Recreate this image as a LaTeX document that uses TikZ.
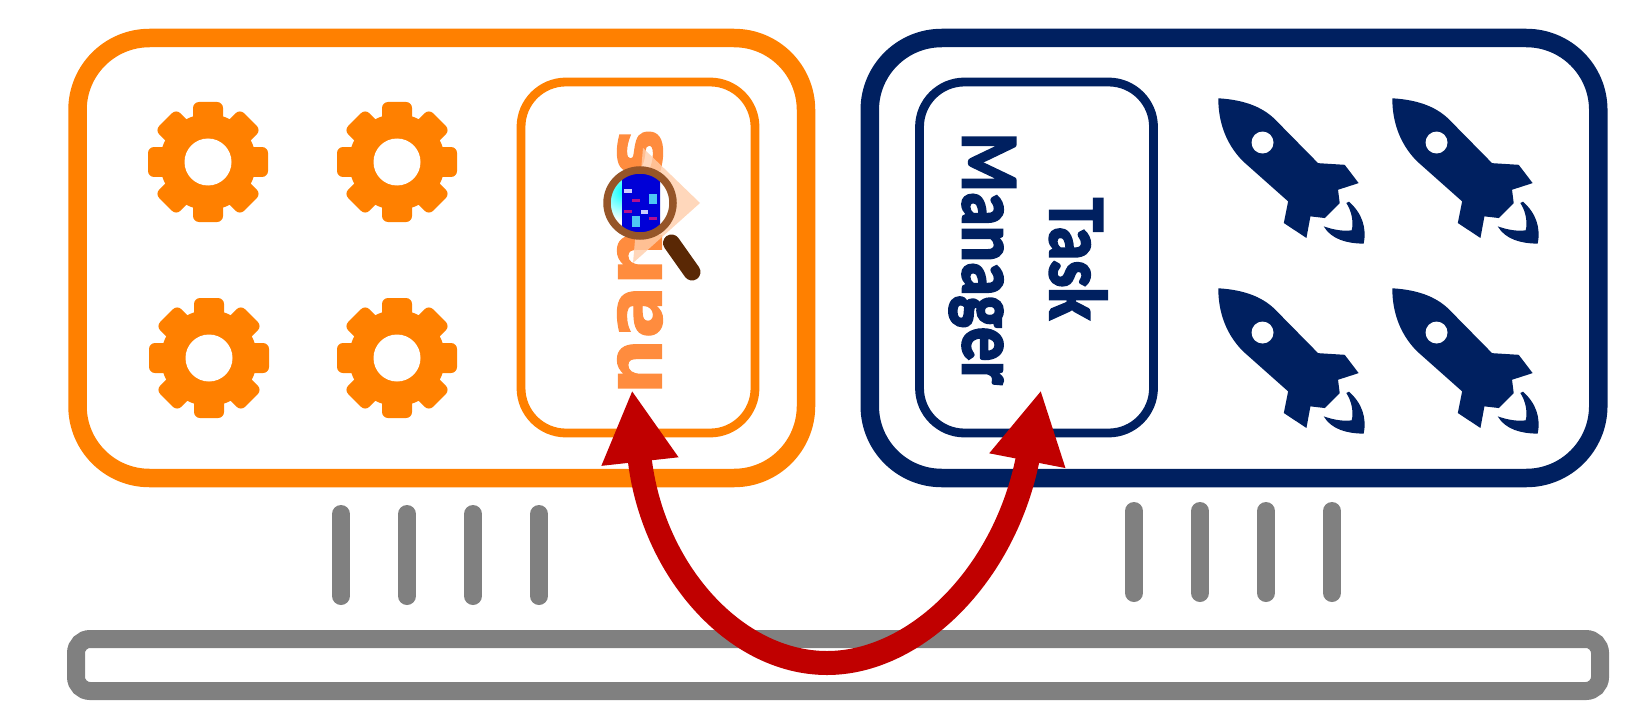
\documentclass[tikz,border=0pt]{standalone}
\usepackage{fontspec}
\usepackage{xcolor}
\usepackage{tikz}
\usetikzlibrary{arrows.meta}
\newfontfamily\mgrfont[BoldFeatures={FakeBold=3}]{Carlito}
\newfontfamily\nanofont[BoldFeatures={FakeBold=1.5}]{DejaVu Sans}
\definecolor{myorange}{RGB}{255,128,0}
\definecolor{mynavy}{RGB}{0,32,96}
\definecolor{mygray}{RGB}{128,128,128}
\definecolor{myred}{RGB}{192,0,0}
\definecolor{lightorange}{RGB}{255,140,62}
\definecolor{peach}{RGB}{255,205,170}
\definecolor{ringbrown}{RGB}{150,85,40}
\definecolor{handlebrown}{RGB}{90,40,5}
\definecolor{chipblue}{RGB}{0,0,215}
\tikzset{
  hostbox/.style={rectangle, line width=0.185cm, rounded corners=0.72cm, inner sep=0pt, outer sep=0pt,
    minimum width=7.285cm, minimum height=4.40cm},
  mgrbox/.style={rectangle, line width=0.088cm, rounded corners=0.45cm, inner sep=0pt, outer sep=0pt,
    minimum width=2.34cm, minimum height=3.51cm},
  pintick/.style={line width=0.18cm, line cap=round, color=mygray},
  arrow/.style={{Triangle[length=0.72cm,width=0.72cm]}-{Triangle[length=0.72cm,width=0.72cm]}, line width=0.24cm, color=myred},
  gear/.pic={
    \fill[myorange] (0,0) circle (0.48);
    \foreach \a in {0,45,...,315}
      \fill[myorange, rotate=\a, rounded corners=0.06cm] (-0.15,0.3) -- (-0.15,0.6) -- (0.15,0.6) -- (0.15,0.3) -- cycle;
    \fill[white] (0,0) circle (0.235);
  },
  rocket/.pic={
    \fill[mynavy, x=0.003333cm, y=-0.003333cm] (85,55) .. controls (170,60) and (225,85) .. (262,125) -- (385,250) -- (465,255) -- (507,310)
      -- (445,330) -- (450,370) -- (405,415) -- (362,410) -- (350,475) -- (282,430) -- (295,365) -- (160,245)
      .. controls (110,195) and (85,130) .. cycle;
    \fill[white, x=0.003333cm, y=-0.003333cm] (218,188) circle (33);
    \fill[mynavy, x=0.003333cm, y=-0.003333cm] (470,370) .. controls (487,395) and (492,430) .. (486,452)
      .. controls (455,456) and (425,448) .. (402,440) .. controls (425,480) and (475,492) .. (522,492)
      .. controls (532,445) and (517,400) .. (478,366) -- cycle;
  }
}
\begin{document}
\begin{tikzpicture}
  \useasboundingbox (0,0) rectangle (16.35,7.01);
  % Nodes
  \node[hostbox, draw=myorange] (host) at (4.4175,4.43) {};
  \node[hostbox, draw=mynavy] (accel) at (12.34,4.43) {};
  \node[mgrbox, draw=myorange] (nanosbox) at (6.38,4.435) {};
  \node[mgrbox, draw=mynavy] (taskbox) at (10.365,4.435) {};
  \node[rotate=90, text=lightorange, font=\nanofont\bfseries\fontsize{22.4}{24}\selectfont, inner sep=0pt] (nanos) at (6.40,4.395) {nanos};
  \node[rotate=-90, xscale=0.84, transform shape, text=mynavy, align=center, font=\mgrfont\bfseries\fontsize{23}{24.8}\selectfont, inner sep=0pt] (taskmgr) at (10.28,4.42) {Task\\Manager};
  \node[rectangle, draw=mygray, line width=0.18cm, rounded corners=0.14cm, inner sep=0pt, outer sep=0pt,
    minimum width=15.24cm, minimum height=0.52cm] (bus) at (8.38,0.36) {};

  % Magnifier
  \fill[peach, opacity=0.8] (6.43,5.53) -- (7.00,4.98) -- (6.33,4.38) -- cycle;
  \begin{scope}
    \clip (6.40,4.98) circle (0.335);
    \fill[white] (6.40,4.98) circle (0.335);
    \shade[inner color=cyan, outer color=white] (6.24,5.10) circle (0.3);
    \fill[chipblue, rounded corners=0.05cm] (6.22,4.69) rectangle (6.60,5.28);
    \fill[cyan!70] (6.49,4.97) rectangle (6.57,5.07);
    \fill[cyan!70] (6.32,4.74) rectangle (6.40,4.85);
    \fill[blue!20] (6.24,5.08) rectangle (6.32,5.12);
    \fill[blue!20] (6.41,4.87) rectangle (6.48,4.91);
    \fill[magenta!70!blue] (6.32,4.99) rectangle (6.40,5.02);
    \fill[magenta!70!blue] (6.24,4.88) rectangle (6.32,4.91);
    \fill[magenta!70!blue] (6.49,4.81) rectangle (6.57,4.84);
  \end{scope}
  \draw[ringbrown, line width=0.075cm] (6.40,4.98) circle (0.33);
  \draw[handlebrown, line width=0.17cm, line cap=round] (6.715,4.58) -- (6.92,4.29);

  % Icons
  \foreach \x/\y in {2.08/5.39, 3.97/5.39, 2.09/3.43, 3.97/3.43}
    \pic at (\x,\y) {gear};
  \foreach \x/\y in {11.90/6.21, 13.64/6.21, 11.90/4.31, 13.64/4.31}
    \pic at (\x,\y) {rocket};

  % Pins
  \foreach \x in {3.41,4.07,4.73,5.39}
    \draw[pintick] (\x,1.87) -- (\x,1.05);
  \foreach \x in {11.34,12.00,12.66,13.32}
    \draw[pintick] (\x,1.90) -- (\x,1.08);

  % Connections
  \draw[arrow] ([xshift=-0.06cm,yshift=0.43cm]nanosbox.south) .. controls (6.52,1.31) and (7.35,0.38) .. (8.27,0.38)
    .. controls (9.15,0.38) and (10.05,1.25) .. ([xshift=0.045cm,yshift=0.43cm]taskbox.south);
\end{tikzpicture}
\end{document}
